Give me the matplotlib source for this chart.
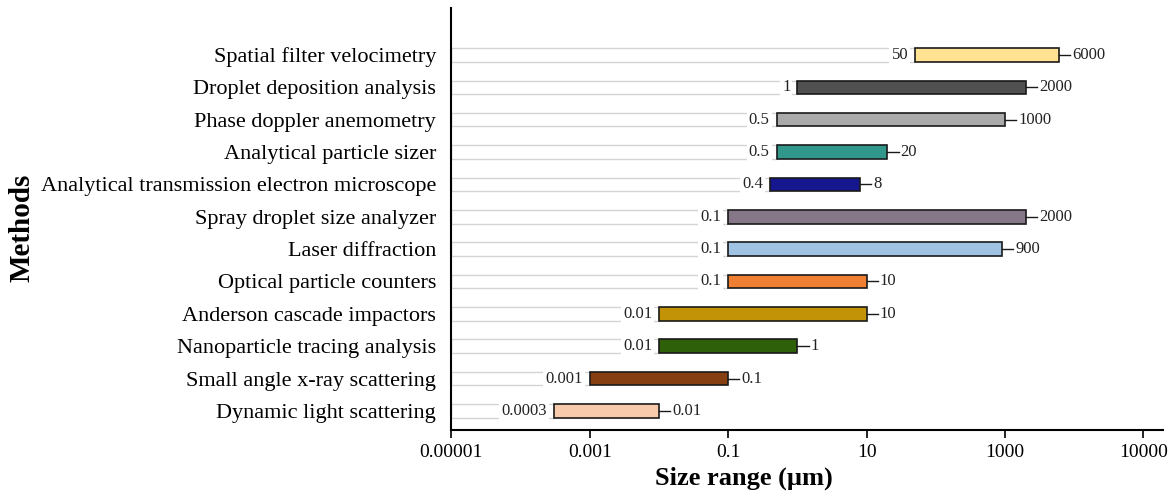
import matplotlib
matplotlib.use('Agg')
import matplotlib.pyplot as plt

plt.rcParams['font.family'] = ['Liberation Serif', 'DejaVu Serif']

# ==================== 数据 ====================
methods = [
    'Dynamic light scattering',
    'Small angle x-ray scattering',
    'Nanoparticle tracing analysis',
    'Anderson cascade impactors',
    'Optical particle counters',
    'Laser diffraction',
    'Spray droplet size analyzer',
    'Analytical transmission electron microscope',
    'Analytical particle sizer',
    'Phase doppler anemometry',
    'Droplet deposition analysis',
    'Spatial filter velocimetry',
]
size_min = [0.0003, 0.001, 0.01, 0.01, 0.1, 0.1, 0.1, 0.4, 0.5, 0.5, 1, 50]
size_max = [0.01, 0.1, 1, 10, 10, 900, 2000, 8, 20, 1000, 2000, 6000]
min_labels = ['0.0003', '0.001', '0.01', '0.01', '0.1', '0.1', '0.1', '0.4', '0.5', '0.5', '1', '50']
max_labels = ['0.01', '0.1', '1', '10', '10', '900', '2000', '8', '20', '1000', '2000', '6000']
colors = ['#F6CAAB', '#863F10', '#2E600A', '#C29306', '#F07F33', '#A0C2E3',
          '#857688', '#16168F', '#31978A', '#AAAAAA', '#505050', '#FFE392']

tick_values = [1e-5, 1e-3, 1e-1, 1e1, 1e3, 1e5]
tick_labels = ['0.00001', '0.001', '0.1', '10', '1000', '10000']

x_left = 1e-5
bar_h = 0.42

fig = plt.figure(figsize=(11.74, 4.95), dpi=100)
ax = fig.add_axes([0.3845, 0.1313, 0.6060, 0.8525])

for i, (lo, hi) in enumerate(zip(size_min, size_max)):
    # 左侧浅灰底框
    ax.barh(i, lo - x_left, left=x_left, height=bar_h, color='white',
            edgecolor='#d4d4d4', linewidth=1.0, zorder=1)
    # 粒径范围
    ax.barh(i, hi - lo, left=lo, height=bar_h, color=colors[i],
            edgecolor='#1a1a1a', linewidth=1.2, zorder=3)
    # 右端短线
    ax.plot([hi, hi * 10 ** 0.16], [i, i], color='#1a1a1a', lw=1.0, zorder=3)
    ax.annotate(min_labels[i], (lo, i), xytext=(-5, 0), textcoords='offset points',
                ha='right', va='center', fontsize=12, color='#222222', zorder=4,
                bbox=dict(boxstyle='square,pad=0.12', fc='white', ec='none'))
    ax.annotate(max_labels[i], (hi * 10 ** 0.16, i), xytext=(1.5, 0),
                textcoords='offset points', ha='left', va='center',
                fontsize=12, color='#222222', zorder=4)

ax.set_xscale('log')
ax.set_xlim(x_left, 10 ** 5.28)
ax.set_ylim(-0.59, 12.45)

ax.set_xticks(tick_values)
ax.set_xticklabels(tick_labels, fontsize=14)
ax.minorticks_off()
ax.tick_params(axis='x', length=6, width=1.2, direction='out', pad=4)
ax.set_yticks(range(len(methods)))
ax.set_yticklabels(methods, fontsize=16)
ax.tick_params(axis='y', length=0, pad=11)

for side in ['top', 'right']:
    ax.spines[side].set_visible(False)
for side in ['left', 'bottom']:
    ax.spines[side].set_linewidth(1.5)

fig.text(0.634, 0.034, 'Size range (µm)', ha='center', va='center',
         fontsize=19, fontweight='bold')
fig.text(0.019, 0.54, 'Methods', rotation=90, ha='center', va='center',
         fontsize=21, fontweight='bold')

fig.savefig('out.png', dpi=100, facecolor='white')
